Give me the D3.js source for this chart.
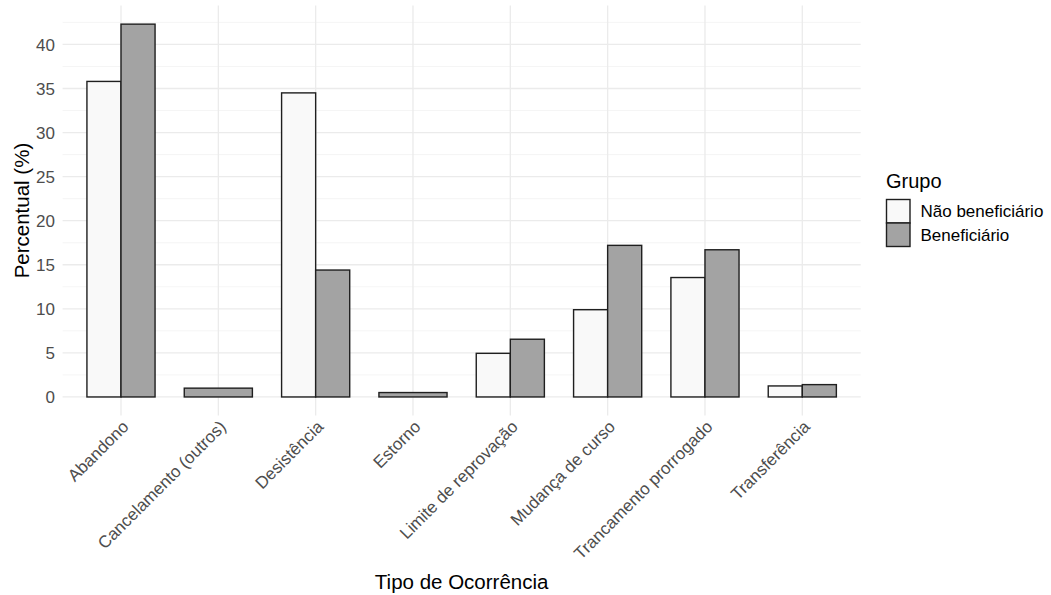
<!DOCTYPE html>
<html>
<head>
<meta charset="utf-8">
<script src="https://cdn.jsdelivr.net/npm/d3@7"></script>
<style>
  html, body { margin: 0; padding: 0; background: #ffffff; }
  svg { display: block; font-family: "Liberation Sans", Arial, sans-serif; }
</style>
</head>
<body>
<svg id="chart" width="1051" height="595"></svg>
<script>
// ---- data ----
const categories = ["Abandono", "Cancelamento (outros)", "Desistência", "Estorno",
  "Limite de reprovação", "Mudança de curso", "Trancamento prorrogado", "Transferência"];
const groups = ["Não beneficiário", "Beneficiário"];
const naoBeneficiario = [35.8, null, 34.5, null, 4.95, 9.9, 13.55, 1.25];
const beneficiario    = [42.3, 1.0, 14.4, 0.5, 6.55, 17.2, 16.7, 1.4];
const yTicks = [0, 5, 10, 15, 20, 25, 30, 35, 40];
const yMinor = [2.5, 7.5, 12.5, 17.5, 22.5, 27.5, 32.5, 37.5, 42.5];
const groupColors = ["#f9f9f9", "#a3a3a3"];

const seriesByGroup = [naoBeneficiario, beneficiario];

// ---- layout ----
const panel = { left: 62.6, right: 860.7, top: 5.5, bottom: 415.6 };
const svg = d3.select("#chart");

const x = d3.scaleBand().domain(categories)
  .range([panel.left, panel.right]).paddingInner(0.3).paddingOuter(0.25);

const maxV = d3.max(beneficiario.concat(naoBeneficiario).filter(v => v != null));
const pad = maxV * 0.05;
const y = d3.scaleLinear().domain([-pad, maxV + pad]).range([panel.bottom, panel.top]);

// grid
const grid = svg.append("g");
grid.selectAll("line.minor").data(yMinor).join("line")
  .attr("x1", panel.left).attr("x2", panel.right)
  .attr("y1", d => y(d)).attr("y2", d => y(d))
  .attr("stroke", "#f2f2f2").attr("stroke-width", 0.8);
grid.selectAll("line.major").data(yTicks).join("line")
  .attr("x1", panel.left).attr("x2", panel.right)
  .attr("y1", d => y(d)).attr("y2", d => y(d))
  .attr("stroke", "#ebebeb").attr("stroke-width", 1.3);
grid.selectAll("line.vmaj").data(categories).join("line")
  .attr("x1", d => x(d) + x.bandwidth() / 2).attr("x2", d => x(d) + x.bandwidth() / 2)
  .attr("y1", panel.top).attr("y2", panel.bottom)
  .attr("stroke", "#ebebeb").attr("stroke-width", 1.3);

// bars
const bars = [];
categories.forEach((c, i) => {
  const present = groups.map((g, gi) => ({ g, gi, v: seriesByGroup[gi][i] })).filter(d => d.v != null);
  const sub = d3.scaleBand().domain(present.map(d => d.g)).range([0, x.bandwidth()]);
  present.forEach(d => bars.push({ c, g: d.g, gi: d.gi, v: d.v, x0: x(c) + sub(d.g), w: sub.bandwidth() }));
});
svg.append("g").selectAll("rect").data(bars).join("rect")
  .attr("x", d => d.x0).attr("width", d => d.w)
  .attr("y", d => y(d.v)).attr("height", d => y(0) - y(d.v))
  .attr("fill", d => groupColors[d.gi])
  .attr("stroke", "#1f1f1f").attr("stroke-width", 1.4);

// y axis labels
svg.append("g").selectAll("text").data(yTicks).join("text")
  .attr("x", 55).attr("y", d => y(d)).attr("dy", "0.36em")
  .attr("text-anchor", "end").attr("fill", "#4d4d4d").attr("font-size", 17)
  .text(d => d);

// x axis labels
svg.append("g").selectAll("text").data(categories).join("text")
  .attr("transform", d => `translate(${x(d) + x.bandwidth() / 2},${panel.bottom + 3.5}) rotate(-45)`)
  .attr("text-anchor", "end").attr("dy", "0.72em")
  .attr("fill", "#4d4d4d").attr("font-size", 17)
  .text(d => d);

// axis titles
svg.append("text")
  .attr("x", (panel.left + panel.right) / 2).attr("y", 589)
  .attr("text-anchor", "middle").attr("font-size", 20.5).attr("fill", "#000")
  .text("Tipo de Ocorrência");
svg.append("text")
  .attr("transform", `translate(28.5,${(panel.top + panel.bottom) / 2}) rotate(-90)`)
  .attr("text-anchor", "middle").attr("font-size", 20.5).attr("fill", "#000")
  .text("Percentual (%)");

// legend
const lg = svg.append("g");
lg.append("text").attr("x", 886).attr("y", 188).attr("font-size", 20).attr("fill", "#000").text("Grupo");
const keySize = 23.5;
lg.selectAll("rect").data(groups).join("rect")
  .attr("x", 886.5).attr("y", (d, i) => 199.5 + i * keySize)
  .attr("width", keySize).attr("height", keySize)
  .attr("fill", (d, i) => groupColors[i]).attr("stroke", "#1f1f1f").attr("stroke-width", 1.4);
lg.selectAll("text.lab").data(groups).join("text").attr("class", "lab")
  .attr("x", 920.5).attr("y", (d, i) => 199.5 + i * keySize + keySize / 2).attr("dy", "0.36em")
  .attr("font-size", 17).attr("fill", "#000")
  .text(d => d);
</script>
</body>
</html>
